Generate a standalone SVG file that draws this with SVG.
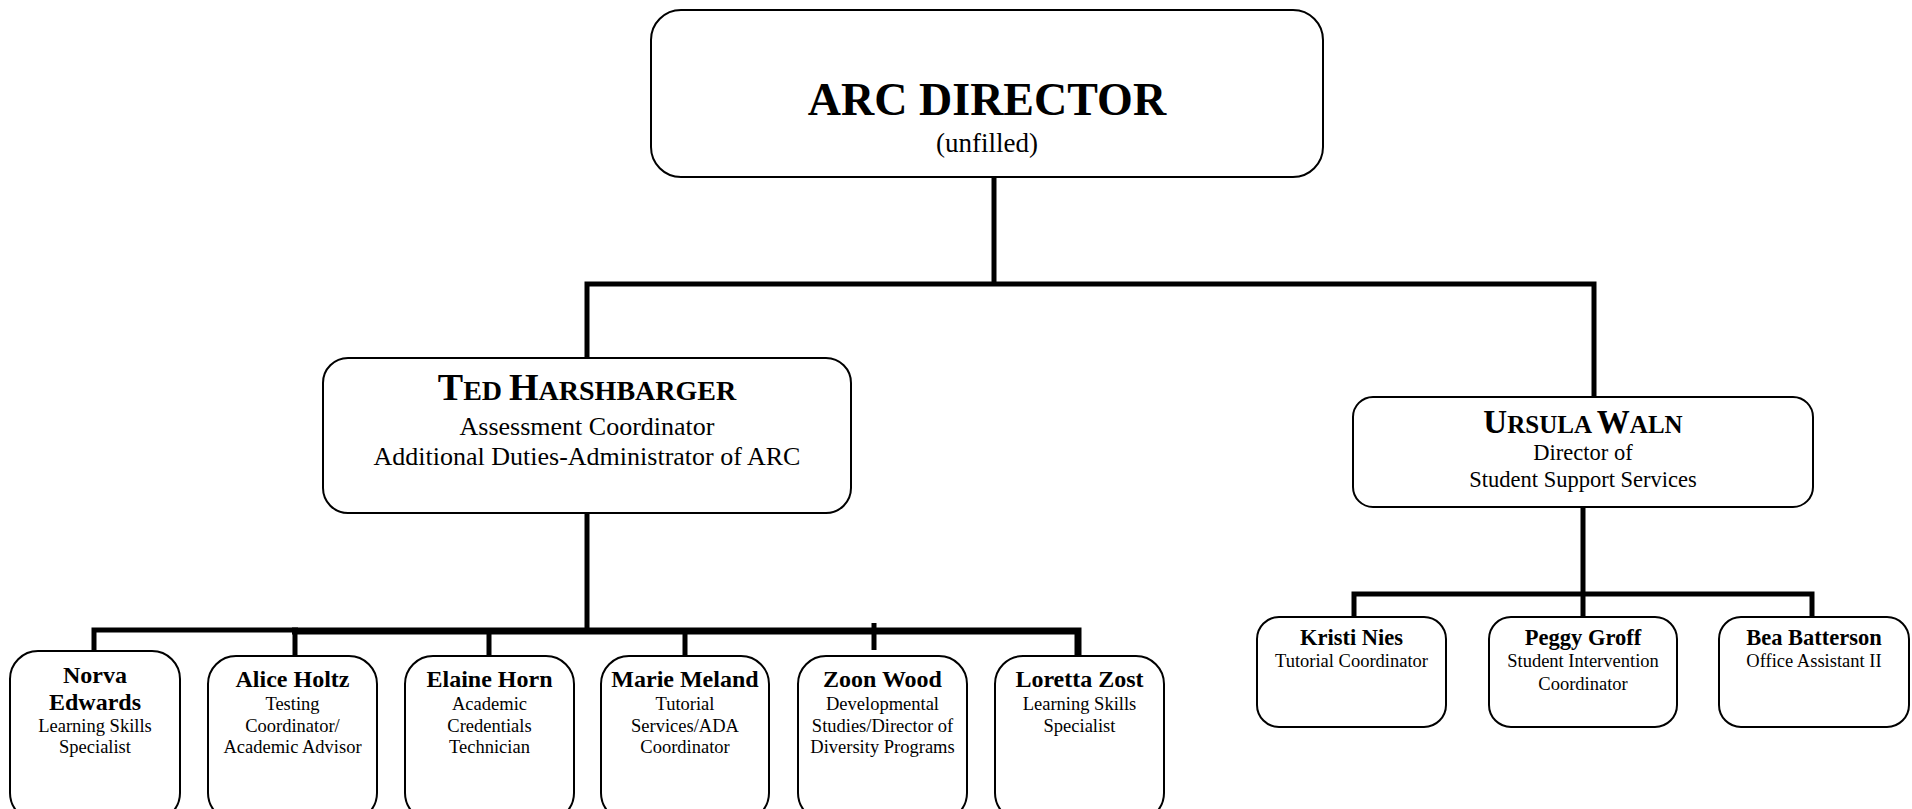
<svg xmlns="http://www.w3.org/2000/svg" width="1912" height="809" viewBox="0 0 1912 809">
<style>
.box{fill:#fff;stroke:#000;stroke-width:2}
.ln{fill:none;stroke:#000;stroke-width:5;stroke-linecap:butt;stroke-linejoin:miter}
text{font-family:"Liberation Serif","Times New Roman",serif;fill:#000;text-anchor:middle}
.nm{font-weight:bold;font-size:24px}
.sb{font-size:18.5px}
.rnm{font-weight:bold;font-size:22.5px}
</style>
<rect width="1912" height="809" fill="#fff"/>
<g id="connectors">
<path class="ln" d="M994 177V284"/>
<path class="ln" d="M587 358V284H1594V397"/>
<path class="ln" d="M587 513V631"/>
<path class="ln" d="M94 651V630H298"/>
<path class="ln" style="stroke-width:7" d="M292 631H1078V656"/>
<path class="ln" d="M295 631V656M489 631V656M685 631V656M874 623V650"/>
<path class="ln" d="M1583 505V617"/>
<path class="ln" d="M1354 617V594H1812V617"/>
</g>
<g id="arc-director">
<rect class="box" x="651" y="10" width="672" height="167" rx="30"/>
<text x="987" y="115" style="font-weight:bold;font-size:46px">ARC DIRECTOR</text>
<text x="987" y="152" style="font-size:27px">(unfilled)</text>
</g>
<g id="ted">
<rect class="box" x="323" y="358" width="528" height="155" rx="25"/>
<text x="587" y="400" style="font-weight:bold;font-size:28px"><tspan style="font-size:38px">T</tspan>ED <tspan style="font-size:38px">H</tspan>ARSHBARGER</text>
<text x="587" y="435" style="font-size:26px">Assessment Coordinator</text>
<text x="587" y="465" style="font-size:26px">Additional Duties-Administrator of ARC</text>
</g>
<g id="ursula">
<rect class="box" x="1353" y="397" width="460" height="110" rx="20"/>
<text x="1583" y="433" style="font-weight:bold;font-size:25px"><tspan style="font-size:33px">U</tspan>RSULA <tspan style="font-size:33px">W</tspan>ALN</text>
<text x="1583" y="460" style="font-size:22.5px">Director of</text>
<text x="1583" y="487" style="font-size:22.5px">Student Support Services</text>
</g>
<g id="norva">
<rect class="box" x="10" y="651" width="170" height="170" rx="28"/>
<text class="nm" x="95" y="683">Norva</text>
<text class="nm" x="95" y="710">Edwards</text>
<text class="sb" x="95" y="732">Learning Skills</text>
<text class="sb" x="95" y="753">Specialist</text>
</g>
<g id="alice">
<rect class="box" x="208" y="656" width="169" height="165" rx="28"/>
<text class="nm" x="292.5" y="687">Alice Holtz</text>
<text class="sb" x="292.5" y="710">Testing</text>
<text class="sb" x="292.5" y="732">Coordinator/</text>
<text class="sb" x="292.5" y="753">Academic Advisor</text>
</g>
<g id="elaine">
<rect class="box" x="405" y="656" width="169" height="165" rx="28"/>
<text class="nm" x="489.5" y="687">Elaine Horn</text>
<text class="sb" x="489.5" y="710">Academic</text>
<text class="sb" x="489.5" y="732">Credentials</text>
<text class="sb" x="489.5" y="753">Technician</text>
</g>
<g id="marie">
<rect class="box" x="601" y="656" width="168" height="165" rx="28"/>
<text class="nm" x="685" y="687">Marie Meland</text>
<text class="sb" x="685" y="710">Tutorial</text>
<text class="sb" x="685" y="732">Services/ADA</text>
<text class="sb" x="685" y="753">Coordinator</text>
</g>
<g id="zoon">
<rect class="box" x="798" y="656" width="169" height="165" rx="28"/>
<text class="nm" x="882.5" y="687">Zoon Wood</text>
<text class="sb" x="882.5" y="710">Developmental</text>
<text class="sb" x="882.5" y="732">Studies/Director of</text>
<text class="sb" x="882.5" y="753">Diversity Programs</text>
</g>
<g id="loretta">
<rect class="box" x="995" y="656" width="169" height="165" rx="28"/>
<text class="nm" x="1079.5" y="687">Loretta Zost</text>
<text class="sb" x="1079.5" y="710">Learning Skills</text>
<text class="sb" x="1079.5" y="732">Specialist</text>
</g>
<g id="kristi">
<rect class="box" x="1257" y="617" width="189" height="110" rx="22"/>
<text class="rnm" x="1351.5" y="645">Kristi Nies</text>
<text class="sb" x="1351.5" y="667">Tutorial Coordinator</text>
</g>
<g id="peggy">
<rect class="box" x="1489" y="617" width="188" height="110" rx="22"/>
<text class="rnm" x="1583" y="645">Peggy Groff</text>
<text class="sb" x="1583" y="667">Student Intervention</text>
<text class="sb" x="1583" y="690">Coordinator</text>
</g>
<g id="bea">
<rect class="box" x="1719" y="617" width="190" height="110" rx="22"/>
<text class="rnm" x="1814" y="645">Bea Batterson</text>
<text class="sb" x="1814" y="667">Office Assistant II</text>
</g>
</svg>
